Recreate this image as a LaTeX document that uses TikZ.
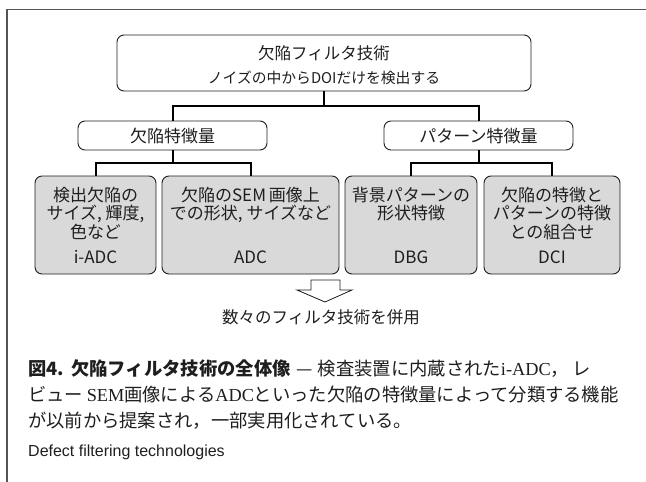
\documentclass[tikz,border=0pt]{standalone}
\usepackage{fontspec}
\setmainfont{Noto Sans CJK JP}
\newfontfamily\lserif{Liberation Serif}
\newfontfamily\lsans{Liberation Sans}
\XeTeXlinebreaklocale "ja"
\XeTeXlinebreakskip=0pt plus 1pt
\definecolor{framec}{HTML}{555555}
\definecolor{boxfill}{HTML}{D9D9D9}
\definecolor{ink}{HTML}{1E1E1E}
\begin{document}
\begin{tikzpicture}[x=1pt,y=-1pt,
  rbox/.style={draw=ink, line width=0.9pt, rounded corners=7pt, inner sep=0pt},
  gbox/.style={rbox, fill=boxfill},
  conn/.style={draw=black, line width=2pt},
  txt/.style={inner sep=0pt, text=ink, font=\fontsize{17}{19}\selectfont},
  captxt/.style={inner sep=0pt, text=ink, anchor=west, font=\fontsize{18.3}{20}\selectfont},
]
\useasboundingbox (0,0) rectangle (646,482);
% frame
\draw[framec, line width=1.3pt] (646,9.5) -- (7,9.5) -- (7,482);

% top box
\node[rbox, minimum width=414pt, minimum height=56pt] (top) at (324,63) {};
\node[txt, font=\fontsize{16.5}{18}\selectfont] (toptitle) at (324,53) {欠陥フィルタ技術};
\node[txt, font=\fontsize{14.8}{16}\selectfont] (topsub) at (324,78) {ノイズの中からDOIだけを検出する};

% second level
\node[rbox, minimum width=189pt, minimum height=29pt] (l2) at (172.5,135.5) {};
\node[txt] (l2t) at (172.5,136) {欠陥特徴量};
\node[rbox, minimum width=189pt, minimum height=29pt] (r2) at (478.5,135.5) {};
\node[txt] (r2t) at (478.5,136) {パターン特徴量};

% bottom boxes
\node[gbox, minimum width=121pt, minimum height=98pt] (b1) at (95.5,225) {};
\node[gbox, minimum width=177pt, minimum height=98pt] (b2) at (250.5,225) {};
\node[gbox, minimum width=132pt, minimum height=98pt] (b3) at (411,225) {};
\node[gbox, minimum width=136pt, minimum height=98pt] (b4) at (552,225) {};

% connectors
\coordinate (j1) at (324,106);
\draw[conn] (top.south) -- (j1);
\draw[conn] (l2.north) |- (j1) -| (r2.north);
\coordinate (j2) at (172.5,163);
\draw[conn] (l2.south) -- (j2);
\draw[conn] (b1.north) |- (j2) -| (b2.north);
\coordinate (j3) at (478.5,163);
\draw[conn] (r2.south) -- (j3);
\draw[conn] (b3.north) |- (j3) -| (b4.north);

% box texts
\node[txt] (b1a) at (95.5,195) {検出欠陥の};
\node[txt] (b1b) at (95.5,213.5) {サイズ, 輝度,};
\node[txt] (b1c) at (95.5,232) {色など};
\node[txt] (b1d) at (95.5,257) {i-ADC};

\node[txt] (b2a) at (250.5,195) {欠陥のSEM\,画像上};
\node[txt] (b2b) at (250.5,213.5) {での形状, サイズなど};
\node[txt] (b2d) at (250.5,257) {ADC};

\node[txt] (b3a) at (411,195) {背景パターンの};
\node[txt] (b3b) at (411,213.5) {形状特徴};
\node[txt] (b3d) at (411,257) {DBG};

\node[txt] (b4a) at (552,195) {欠陥の特徴と};
\node[txt] (b4b) at (552,213.5) {パターンの特徴};
\node[txt] (b4c) at (552,232) {との組合せ};
\node[txt] (b4d) at (552,257) {DCI};

% hollow arrow
\draw[draw=ink, line width=0.8pt, fill=white, line join=miter]
  (311,280) -- (340,280) -- (340,290) -- (352,290) -- (325,302) -- (297,290) -- (311,290) -- cycle;
\node[txt, font=\fontsize{16.5}{18}\selectfont] (use) at (321,317) {数々のフィルタ技術を併用};

% caption
\node[captxt] (cap1) at (28,369) {\makebox[593pt][s]{{\bfseries 図4.}\kern0.4em{\bfseries 欠陥フィルタ技術の全体像}\kern0.3em—\kern0.3em検査装置に内蔵された{\lserif i-ADC}，\kern0.2emレ}};
\node[captxt] (cap2) at (28,395) {\makebox[593pt][s]{ビュー\kern0.2em{\lserif SEM}画像による{\lserif ADC}といった欠陥の特徴量によって分類する機能}};
\node[captxt] (cap3) at (28,421) {が以前から提案され，一部実用化されている。};
\node[captxt, font=\lsans\fontsize{16}{18}\selectfont] (cap4) at (28,452) {Defect filtering technologies};
\end{tikzpicture}
\end{document}
